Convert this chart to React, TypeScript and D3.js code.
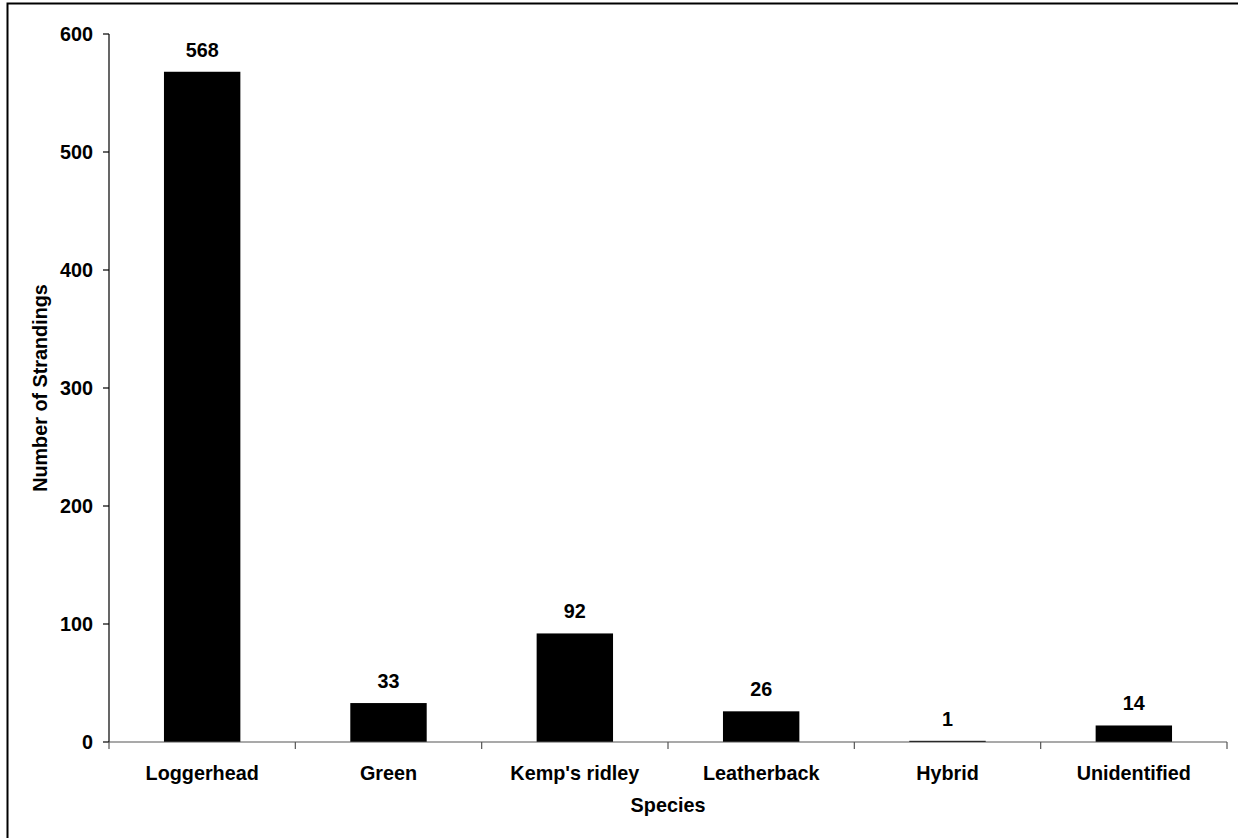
import React from "react";
import * as d3 from "d3";

const categories = ["Loggerhead", "Green", "Kemp's ridley", "Leatherback", "Hybrid", "Unidentified"];
const strandings = [568, 33, 92, 26, 1, 14];
const yTicks = [0, 100, 200, 300, 400, 500, 600];

export default function App() {
  const W = 1238, H = 838;
  const left = 109, right = 1227, top = 34, bottom = 742;
  const x = d3.scaleBand<string>().domain(categories).range([left, right]).paddingInner(0).paddingOuter(0);
  const y = d3.scaleLinear().domain([0, 600]).range([bottom, top]);
  const bw = x.bandwidth() * 0.41;
  const font = "'Liberation Sans', Arial, sans-serif";
  const fs = 19.8;
  const bounds = [...categories.map((c) => x(c)!), right];
  return (
    <svg width={W} height={H} style={{ position: "absolute", left: 0, top: 0, background: "#fff" }} fontFamily={font}>
      <rect x={7.5} y={3.5} width={W + 20} height={H + 20} fill="#fff" stroke="#000" strokeWidth={2} />
      {categories.map((c, i) => {
        const cx = x(c)! + x.bandwidth() / 2;
        const v = strandings[i];
        return (
          <g key={c}>
            <rect x={cx - bw / 2} y={y(v)} width={bw} height={bottom - y(v)} fill="#000" />
            <text x={cx} y={y(v) - 15} textAnchor="middle" fontSize={fs} fontWeight="bold">{v}</text>
            <text x={cx} y={780} textAnchor="middle" fontSize={fs} fontWeight="bold">{c}</text>
          </g>
        );
      })}
      <line x1={left} x2={left} y1={top} y2={bottom} stroke="#000" strokeWidth={1.2} />
      <line x1={left} x2={right} y1={bottom} y2={bottom} stroke="#555" strokeWidth={1.2} />
      {yTicks.map((t) => (
        <g key={t}>
          <line x1={left - 6} x2={left} y1={y(t)} y2={y(t)} stroke="#000" strokeWidth={1.2} />
          <text x={93} y={y(t)} dy="0.35em" textAnchor="end" fontSize={fs} fontWeight="bold">{t}</text>
        </g>
      ))}
      {bounds.map((b, i) => (
        <line key={i} x1={b} x2={b} y1={bottom} y2={bottom + 7} stroke="#555" strokeWidth={1.2} />
      ))}
      <text x={(left + right) / 2} y={812} textAnchor="middle" fontSize={fs} fontWeight="bold">Species</text>
      <text transform={`translate(47, ${(top + bottom) / 2}) rotate(-90)`} textAnchor="middle" fontSize={fs} fontWeight="bold">Number of Strandings</text>
    </svg>
  );
}
